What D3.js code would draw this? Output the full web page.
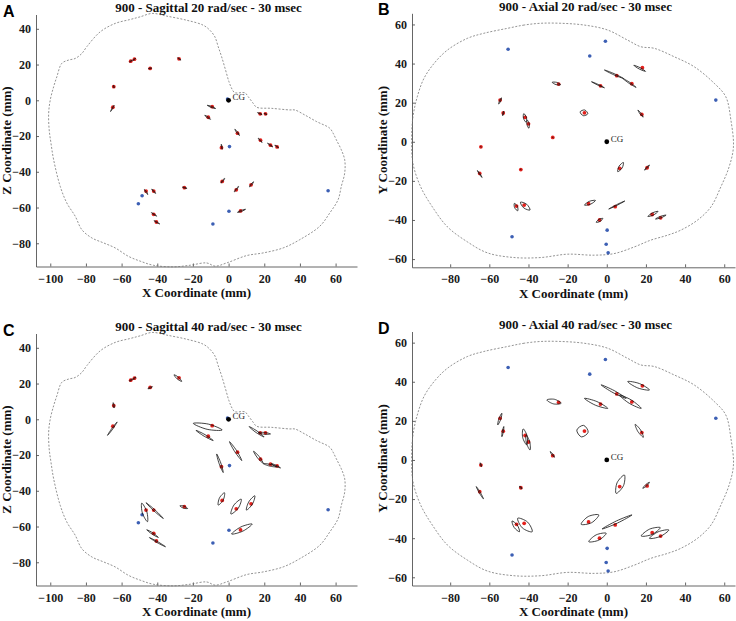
<!DOCTYPE html>
<html>
<head>
<meta charset="utf-8">
<script src="https://cdn.jsdelivr.net/npm/d3@7"></script>
<style>
  body { margin: 0; background: #fff; }
  svg text { font-family: "Liberation Serif", "Times New Roman", serif; }
  .letter { font-family: "Liberation Sans", Arial, sans-serif !important; font-weight: bold; }
</style>
</head>
<body>
<svg id="chart" width="736" height="621"></svg>
<script>
// ---- data (mm) ----
const titles = [
  "900 - Sagittal 20 rad/sec - 30 msec",
  "900 - Axial 20 rad/sec - 30 msec",
  "900 - Sagittal 40 rad/sec - 30 msec",
  "900 - Axial 40 rad/sec - 30 msec"
];
const letters = ["A", "B", "C", "D"];
const sagXTicks = [-100, -80, -60, -40, -20, 0, 20, 40, 60];
const sagYTicks = [-80, -60, -40, -20, 0, 20, 40];
const axXTicks = [-80, -60, -40, -20, 0, 20, 40, 60];
const axYTicks = [-60, -40, -20, 0, 20, 40, 60];

// head outline, sagittal view [x, z]
const sagittalOutline = [
  [-42.9, 48.6], [-49.6, 46.7], [-55.2, 45.2], [-63.6, 43.0], [-72.0, 38.3], [-79.5, 30.0],
  [-82.3, 26.2], [-86.0, 23.4], [-89.7, 22.5], [-93.5, 20.7], [-96.3, 13.2], [-98.1, 7.6],
  [-100.0, 0.2], [-100.9, -7.3], [-100.6, -16.6], [-99.6, -24.0], [-98.1, -33.3], [-94.4, -48.2],
  [-90.7, -57.5], [-86.0, -64.9], [-82.3, -72.4], [-76.7, -77.0], [-70.1, -79.8], [-63.6, -82.6],
  [-56.2, -87.3], [-49.6, -90.0], [-42.2, -92.3], [-31.0, -93.2], [-21.6, -92.3], [-12.3, -91.0],
  [-7.6, -92.8], [-1.1, -91.0], [10.1, -86.9], [19.4, -85.4], [30.6, -82.6], [39.9, -78.0],
  [51.1, -70.5], [56.7, -63.1], [61.4, -55.6], [63.2, -48.2], [65.1, -40.7], [65.1, -33.3],
  [63.2, -27.7], [60.4, -22.1], [58.6, -18.4], [56.7, -15.6], [49.3, -11.9], [42.7, -8.2],
  [37.1, -5.4], [34.3, -5.4], [24.1, -4.5], [15.7, -3.9], [13.8, -1.7], [11.0, 2.0],
  [9.1, 4.2], [3.5, 4.2], [2.0, 6.1], [0.2, 10.4], [-1.7, 16.9], [-3.9, 24.3],
  [-5.8, 29.9], [-7.7, 35.5], [-10.5, 39.2], [-14.2, 42.0], [-23.5, 44.8], [-34.7, 47.1]
];

// head outline, axial view [x, y]
const axialOutline = [
  [-33.7, 60.6], [-42.2, 59.7], [-50.8, 58.0], [-62.7, 55.5], [-71.2, 52.9], [-81.4, 46.9],
  [-88.2, 40.1], [-93.4, 32.4], [-96.8, 23.0], [-99.0, 12.8], [-99.7, 0.9], [-99.0, -11.1],
  [-95.1, -23.0], [-89.1, -33.3], [-81.4, -43.5], [-71.2, -51.2], [-61.0, -56.8], [-47.4, -59.2],
  [-33.7, -59.2], [-20.1, -57.5], [-6.5, -58.0], [3.7, -57.2], [14.0, -53.8], [22.5, -50.3],
  [31.0, -47.8], [37.8, -45.2], [46.3, -40.1], [53.2, -33.3], [58.3, -23.0], [62.5, -12.8],
  [64.7, -2.6], [63.4, 11.1], [60.8, 23.0], [54.9, 29.9], [44.6, 38.4], [34.4, 43.5],
  [24.2, 47.8], [17.4, 48.6], [10.6, 52.0], [0.3, 57.2], [-11.6, 59.7], [-23.5, 60.6]
];

// brain sensor positions (red) and fixed points (blue)
const sagittalRed = [
  [-54.9, 21.9], [-52.8, 23.0], [-44.0, 17.8], [-27.8, 23.2], [-64.4, 7.6], [-64.9, -3.9],
  [-9.2, -3.6], [-11.4, -9.5], [17.7, -7.6], [20.7, -7.6], [5.0, -18.4], [-4.0, -26.5],
  [17.9, -22.3], [23.5, -25.1], [27.2, -26.1], [-3.6, -45.4], [4.3, -50.1], [12.6, -47.3],
  [-24.8, -48.9], [-46.3, -50.8], [-42.0, -50.8], [6.7, -61.9], [-42.0, -63.8], [-40.5, -68.1]
];
const sagittalBlue = [
  [-0.6, 0.7], [0.5, -25.9], [55.8, -50.6], [-48.5, -53.4], [-50.6, -57.9], [0.2, -62.1], [-8.8, -69.2]
];
const axialRed = [
  [18.2, 37.9], [5.1, 33.8], [12.8, 29.7], [-3.2, 28.6], [-24.6, 29.5], [-54.5, 21.3],
  [-52.9, 14.7], [-41.7, 12.5], [-40.0, 9.2], [-11.4, 14.8], [17.9, 14.0], [-27.6, 2.2],
  [-64.3, -2.6], [-43.9, -14.2], [-64.9, -16.2], [6.6, -13.6], [20.6, -13.3], [-46.1, -32.9],
  [-42.2, -32.4], [-9.3, -31.7], [4.3, -33.2], [-3.7, -40.0], [23.2, -37.2], [27.5, -38.9]
];
const axialBlue = [
  [-50.4, 47.3], [-0.7, 51.4], [-8.7, 43.9], [55.7, 21.3], [-48.4, -48.6], [0.2, -45.2], [-0.3, -52.4], [0.7, -56.8]
];

// trajectories: [x1, y1, x2, y2, loop half-width]
const trajA = [
  [-55.6, 21.4, -53.9, 22.5, 0.2], [-53.7, 22.3, -52.2, 23.4, 0.2], [-45.0, 17.7, -43.1, 18.0, 0.2],
  [-28.6, 23.8, -26.7, 22.5, 0.2], [-64.6, 8.4, -64.2, 6.9, 0.2], [-66.2, -6.3, -64.2, -2.8, 0.2],
  [-12.0, -2.8, -7.3, -4.6, 0.3], [-13.4, -8.4, -10.1, -10.6, 0.3], [16.2, -6.9, 18.8, -8.0, 0.2],
  [19.9, -7.3, 21.6, -8.0, 0.2], [3.5, -16.2, 6.1, -19.7, 0.3], [-4.1, -24.6, -3.6, -27.4, 0.2],
  [16.6, -21.2, 18.8, -23.6, 0.2], [21.8, -24.0, 24.8, -26.1, 0.2], [25.9, -25.1, 28.1, -26.6, 0.2],
  [-4.3, -46.3, -2.2, -43.7, 0.3], [3.2, -51.2, 5.6, -48.2, 0.3], [11.7, -48.4, 14.0, -45.6, 0.3],
  [-25.9, -48.6, -23.3, -49.3, 0.2], [-47.2, -49.9, -45.3, -52.7, 0.3], [-43.1, -49.7, -40.9, -52.1, 0.3],
  [5.0, -62.7, 9.5, -61.0, 0.3], [-43.3, -62.9, -40.3, -64.8, 0.2], [-41.8, -67.4, -38.6, -69.2, 0.2]
];
const trajB = [
  [13.8, 39.1, 19.8, 36.0, 0.4], [-1.2, 36.7, 8.5, 32.4, 0.3], [8.2, 32.4, 15.0, 27.8, 0.3],
  [-7.8, 30.7, -1.2, 27.6, 0.2], [-27.9, 30.4, -23.6, 29.2, 0.6], [-55.2, 19.3, -53.8, 22.5, 0.3],
  [-53.2, 13.3, -52.6, 15.7, 0.2], [-42.4, 14.4, -41.2, 10.0, 0.8], [-40.6, 11.1, -39.8, 6.9, 0.6],
  [-13.6, 15.3, -9.7, 14.3, 1.5], [15.9, 16.2, 18.6, 12.6, 0.3], [-27.8, 2.4, -27.4, 2.0, 0],
  [-64.4, -2.4, -64.2, -2.8, 0], [-44.1, -14.0, -43.7, -14.4, 0], [-66.1, -14.7, -63.7, -18.3, 0.2],
  [5.6, -15.3, 8.5, -10.6, 0.9], [19.3, -14.5, 21.8, -11.9, 0.3], [-47.2, -31.5, -45.5, -35.3, 0.8],
  [-44.1, -30.9, -39.2, -34.9, 1.2], [-11.4, -32.4, -5.8, -30.0, 0.8], [1.0, -34.4, 9.2, -30.3, 0.2],
  [-5.4, -41.2, -2.0, -39.2, 0.6], [21.0, -38.2, 26.2, -35.6, 0.6], [24.9, -39.5, 30.3, -37.5, 0.4]
];
const trajC = [
  [-55.6, 21.4, -53.9, 22.5, 0.3], [-53.7, 22.3, -52.0, 23.6, 0.3], [-45.3, 17.1, -42.7, 18.2, 0.3],
  [-30.6, 24.9, -26.3, 21.2, 0.6], [-64.7, 9.3, -64.2, 6.3, 0.3], [-67.9, -9.0, -62.5, -1.5, 0.3],
  [-19.8, -2.3, -3.6, -6.0, 1.5], [-18.3, -6.2, -8.6, -11.9, 0.5], [11.5, -4.1, 19.9, -9.9, 0.5],
  [16.6, -7.5, 23.5, -8.2, 0.5], [0.5, -12.5, 7.4, -23.1, 0.6], [-6.7, -19.4, -3.0, -29.8, 0.5],
  [14.0, -17.9, 19.4, -24.6, 0.6], [19.4, -24.8, 26.8, -26.6, 0.5], [24.0, -24.8, 29.1, -27.2, 0.3],
  [-5.8, -48.0, -2.3, -41.1, 1.2], [1.3, -53.0, 7.1, -44.7, 1.5], [10.0, -50.8, 14.7, -42.8, 1.2],
  [-27.3, -48.4, -23.0, -49.9, 0.6], [-48.7, -46.9, -45.5, -57.3, 1.3], [-46.3, -46.7, -36.6, -55.5, 0.4],
  [1.7, -64.2, 13.2, -58.6, 1.3], [-45.9, -61.8, -39.4, -66.1, 0.4], [-44.4, -66.2, -35.4, -71.3, 0.3]
];
const trajD = [
  [10.7, 40.1, 21.8, 35.8, 1.2], [-2.9, 38.4, 9.9, 31.5, 0.6], [6.5, 33.2, 17.6, 26.4, 1.0],
  [-11.4, 31.5, 0.5, 26.4, 1.0], [-30.6, 30.7, -23.3, 29.0, 1.2], [-55.7, 17.9, -53.6, 23.9, 0.5],
  [-53.6, 11.9, -52.6, 17.1, 0.3], [-42.7, 15.9, -40.9, 7.7, 1.2], [-41.2, 12.8, -39.2, 5.1, 0.9],
  [-15.3, 15.3, -9.5, 14.2, 3.0], [14.5, 18.2, 18.7, 11.6, 0.8], [-28.9, 4.3, -26.7, 1.4, 0.3],
  [-64.7, -1.4, -64.0, -3.4, 0.2], [-44.6, -13.5, -43.3, -14.7, 0.3], [-66.7, -13.6, -63.0, -19.9, 0.3],
  [4.8, -17.1, 9.0, -7.7, 1.8], [18.4, -14.5, 21.8, -11.4, 0.4], [-48.4, -31.2, -44.6, -36.7, 1.0],
  [-45.5, -29.8, -38.1, -36.7, 2.0], [-13.1, -32.9, -4.1, -28.1, 1.8], [-2.4, -35.3, 12.9, -28.1, 0.6],
  [-9.2, -41.8, -0.3, -37.5, 1.5], [17.6, -38.9, 27.3, -34.6, 1.5], [21.8, -40.1, 31.7, -35.8, 1.3]
];

// ---- layout ----
const panels = [
  { x: [36, 357], xd: [-108, 72], y: [266.5, 14.5], yd: [-93, 48], view: "sag", traj: trajA },
  { x: [412, 735], xd: [-99.5, 65.5], y: [267.3, 13.3], yd: [-64.2, 65.7], view: "ax", traj: trajB },
  { x: [36, 357], xd: [-108, 72], y: [585.5, 333.5], yd: [-93, 48], view: "sag", traj: trajC },
  { x: [412, 735], xd: [-99.5, 65.5], y: [585.5, 331.5], yd: [-64.2, 65.7], view: "ax", traj: trajD }
];

const svg = d3.select("#chart");

panels.forEach(function(p, i) {
    let sx = d3.scaleLinear().domain(p.xd).range(p.x);
    let sy = d3.scaleLinear().domain(p.yd).range(p.y);
    let k = (p.x[1] - p.x[0]) / (p.xd[1] - p.xd[0]);
    let g = svg.append("g");
    let sag = p.view === "sag";

    let outline = sag ? sagittalOutline : axialOutline;
    let red = sag ? sagittalRed : axialRed;
    let blue = sag ? sagittalBlue : axialBlue;

    // axes (inward ticks, left + bottom only)
    let xAxis = d3.axisBottom(sx).tickValues(sag ? sagXTicks : axXTicks)
                  .tickSizeInner(-3).tickSizeOuter(0).tickPadding(6);
    let yAxis = d3.axisLeft(sy).tickValues(sag ? sagYTicks : axYTicks)
                  .tickSizeInner(-3).tickSizeOuter(0).tickPadding(5);
    let gx = g.append("g").attr("transform", "translate(0," + p.y[0] + ")").call(xAxis);
    let gy = g.append("g").attr("transform", "translate(" + p.x[0] + ",0)").call(yAxis);
    [gx, gy].forEach(function(a) {
        a.selectAll("path,line").attr("stroke", "#555").attr("stroke-width", 0.9);
        a.selectAll("text").attr("fill", "#1a1a1a").attr("font-size", 12)
         .attr("font-weight", "bold").attr("font-family", "Liberation Serif, serif");
    });
    gx.selectAll("text").attr("dy", "0.85em");

    // outline
    let line = d3.line().x(d => sx(d[0])).y(d => sy(d[1])).curve(d3.curveCatmullRomClosed);
    g.append("path").attr("d", line(outline))
     .attr("fill", "none").attr("stroke", "#777").attr("stroke-width", 0.8)
     .attr("stroke-dasharray", "2,1.6");

    // blue points
    g.selectAll("circle.blue").data(blue).enter().append("circle")
     .attr("class", "blue").attr("cx", d => sx(d[0])).attr("cy", d => sy(d[1]))
     .attr("r", 1.8).attr("fill", "#3c5fb4");

    // red points
    g.selectAll("circle.red").data(red).enter().append("circle")
     .attr("class", "red").attr("cx", d => sx(d[0])).attr("cy", d => sy(d[1]))
     .attr("r", 1.9).attr("fill", "#e3201c");

    // trajectories drawn as thin closed loops
    let loop = d3.line().curve(d3.curveCatmullRomClosed);
    g.selectAll("path.traj").data(p.traj).enter().append("path")
     .attr("class", "traj")
     .attr("d", function(d) {
        let a = [sx(d[0]), sy(d[1])], b = [sx(d[2]), sy(d[3])];
        let dx = b[0] - a[0], dy = b[1] - a[1];
        let len = Math.hypot(dx, dy) || 1;
        let w = d[4] * k;
        let nx = -dy / len * w, ny = dx / len * w;
        let m = [(a[0] + b[0]) / 2, (a[1] + b[1]) / 2];
        return loop([a, [m[0] + nx, m[1] + ny], b, [m[0] - nx, m[1] - ny]]);
     })
     .attr("fill", "none").attr("stroke", "#111").attr("stroke-width", 0.8);

    // CG
    g.append("circle").attr("cx", sx(0)).attr("cy", sy(0)).attr("r", 2.4).attr("fill", "#000");
    g.append("text").attr("x", sx(0) + 4).attr("y", sy(0))
     .attr("font-size", 9).attr("fill", "#222").text("CG");

    // titles and labels
    let cx = (p.x[0] + p.x[1]) / 2;
    let top = p.y[1];
    g.append("text").attr("x", cx + 12).attr("y", top - 2.3)
     .attr("text-anchor", "middle").attr("font-size", 13).attr("font-weight", "bold")
     .attr("fill", "#111").text(titles[i]);
    g.append("text").attr("class", "letter").attr("x", p.x[0] - (sag ? 33 : 34)).attr("y", top + 2)
     .attr("font-size", 16).attr("fill", "#000").text(letters[i]);
    g.append("text").attr("x", cx).attr("y", p.y[0] + 30.5)
     .attr("text-anchor", "middle").attr("font-size", 13).attr("font-weight", "bold")
     .attr("fill", "#111").text("X Coordinate (mm)");
    g.append("text")
     .attr("transform", "translate(" + (p.x[0] - 25) + "," + ((p.y[0] + p.y[1]) / 2) + ") rotate(-90)")
     .attr("text-anchor", "middle").attr("font-size", 13).attr("font-weight", "bold")
     .attr("fill", "#111").text((sag ? "Z" : "Y") + " Coordinate (mm)");
});
</script>
</body>
</html>
